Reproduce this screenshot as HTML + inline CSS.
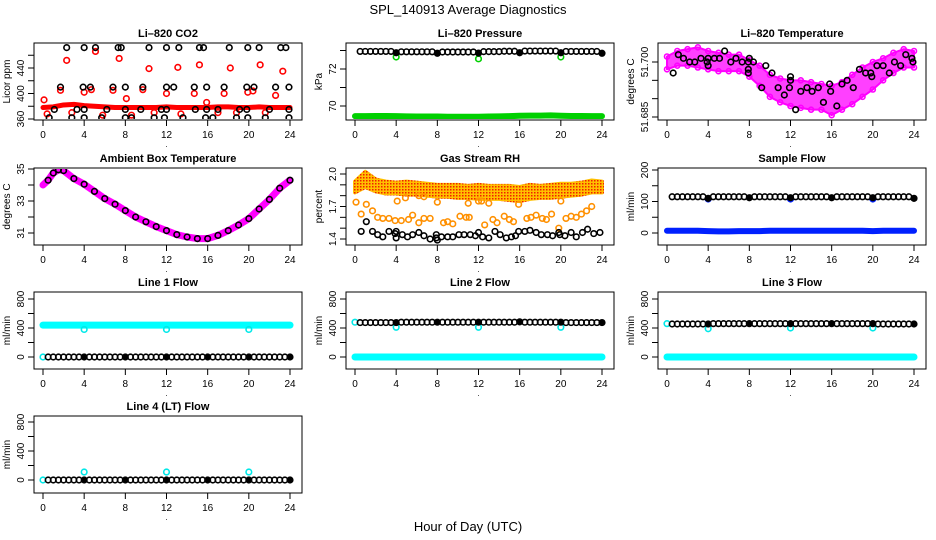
<!DOCTYPE html>
<html><head><meta charset="utf-8"><style>
body{margin:0;background:#fff}
svg{display:block;font-family:"Liberation Sans",Arial,sans-serif}
</style></head><body>
<svg id="chart" width="936" height="540" viewBox="0 0 936 540"></svg>
<script>
const HOURS=[0,1,2,3,4,5,6,7,8,9,10,11,12,13,14,15,16,17,18,19,20,21,22,23,24];
const HALF=[0.5,1,1.5,2,2.5,3,3.5,4,4.5,5,5.5,6,6.5,7,7.5,8,8.5,9,9.5,10,10.5,11,11.5,12,12.5,13,13.5,14,14.5,15,15.5,16,16.5,17,17.5,18,18.5,19,19.5,20,20.5,21,21.5,22,22.5,23,23.5,24];
const xTicks=[0,4,8,12,16,20,24];
// CO2
const co2Band=[378,379,382,383,381,380,379,378,378,378,378,378,379,378,378,378,378,379,379,378,378,379,378,378,378];
const co2RedX=[0.1,2.3,5.1,7.4,10.3,13.1,15.2,18.2,21.1,23.3,1.7,4,4.7,6.8,9.7,12,14.7,17.6,19.9,20.4,22.6,8.1,15.9,0.4,2.8,5.8,8.6,10.8,13.4,17.0,18.8,21.6];
const co2RedY=[390,452,466,455,439,441,445,440,445,435,405,402,406,405,406,400,400,400,402,404,397,392,386,368,370,366,366,370,368,370,370,370];
const co2BlkX=[2.3,4,5.1,7.3,7.6,10.3,12,13.2,15.2,15.6,18.1,19.9,21,23.1,23.6,1.7,3.9,4.6,6.8,8.0,9.7,12,12.7,14.7,15.9,17.6,19.8,20.5,22.6,23.9,1.1,3.3,4,6.2,8,9.5,11.5,12,14.8,15.9,17,19.1,19.8,22,23.9,0.6,2.8,4,5.7,8,8.6,10.8,11.8,13.6,15.8,16.5,18.8,19.9,21.6,23.9];
const co2BlkY=[472,472,472,472,472,472,472,472,472,472,472,472,472,472,472,410,410,410,410,410,410,410,410,410,410,410,410,410,410,410,375,375,375,375,375,375,375,375,375,375,375,375,375,375,375,362,362,362,362,362,362,362,362,362,362,362,362,362,362,362];
// Pressure
const presBlk=[72.95,72.95,72.95,72.95,72.95,72.95,72.95,72.88,72.93,72.93,72.93,72.93,72.93,72.93,72.93,72.85,72.92,72.92,72.92,72.92,72.92,72.92,72.92,72.86,72.94,72.94,72.94,72.94,72.96,72.96,72.96,72.88,72.97,72.97,72.97,72.97,72.97,72.97,72.97,72.88,72.95,72.95,72.95,72.95,72.95,72.95,72.95,72.85];
const presGreen=[69.45,69.45,69.46,69.46,69.45,69.44,69.43,69.43,69.43,69.42,69.42,69.42,69.42,69.43,69.44,69.45,69.47,69.48,69.48,69.49,69.47,69.46,69.46,69.45,69.45];
const presOutX=[4,12,20];
const presOutY=[72.65,72.55,72.65];
// Li-820 temperature
const tempHi=[51.7015,51.7030,51.7035,51.7040,51.7030,51.7025,51.7020,51.7020,51.7005,51.6990,51.6965,51.6955,51.6950,51.6950,51.6945,51.6940,51.6935,51.6945,51.6965,51.6985,51.7000,51.7010,51.7025,51.7035,51.7030];
const tempLo=[51.6980,51.6990,51.6990,51.6985,51.6980,51.6975,51.6975,51.6975,51.6960,51.6935,51.6905,51.6890,51.6880,51.6875,51.6870,51.6870,51.6855,51.6870,51.6885,51.6905,51.6925,51.6950,51.6970,51.6985,51.6985];
const tempBlkX=[0.6,1.1,1.6,2.2,2.7,3.3,3.9,4,4,4.6,5.1,5.6,6.2,6.7,7.3,7.9,7.9,7.9,8,8.4,9.2,9.6,10.2,10.8,11.4,11.9,12,12,12.5,13,13.6,14.1,14.7,15.2,15.8,15.9,16.5,17.0,17.5,18.1,18.7,19.3,19.8,19.9,20.4,21,21.6,22.1,22.7,23.2,23.8,23.9];
const tempBlkY=[51.697,51.702,51.701,51.700,51.700,51.701,51.700,51.701,51.699,51.701,51.701,51.703,51.700,51.701,51.700,51.700,51.698,51.697,51.701,51.700,51.693,51.699,51.697,51.693,51.691,51.693,51.696,51.695,51.687,51.692,51.693,51.692,51.693,51.689,51.694,51.692,51.688,51.694,51.695,51.693,51.698,51.697,51.697,51.696,51.699,51.699,51.697,51.700,51.699,51.702,51.701,51.700];
// Ambient box temperature
const ambX=[0,0.5,1,1.5,2,3,4,5,6,7,8,9,10,11,12,13,14,15,16,17,18,19,20,21,22,23,24];
const ambY=[34.0,34.3,34.75,34.95,34.9,34.4,34.05,33.6,33.15,32.8,32.4,32.0,31.7,31.4,31.15,30.9,30.75,30.65,30.65,30.85,31.15,31.5,31.9,32.5,33.1,33.8,34.3];
// Gas stream RH
const rhHi=[1.93,2.02,1.95,1.93,1.92,1.93,1.92,1.91,1.90,1.90,1.90,1.89,1.90,1.89,1.89,1.89,1.88,1.90,1.89,1.90,1.91,1.91,1.92,1.94,1.93];
const rhLo=[1.83,1.88,1.84,1.82,1.82,1.81,1.81,1.80,1.79,1.79,1.78,1.78,1.77,1.77,1.77,1.76,1.75,1.77,1.78,1.78,1.79,1.80,1.81,1.83,1.83];
const rhOrX=[0.1,0.6,1.1,1.7,2.2,2.7,3.3,3.9,4.1,4.5,4.9,5.2,5.6,6.2,6.7,6.2,6.7,7.3,8.0,8.6,9.0,9.5,10.2,10.8,11.1,11.0,12.0,12.3,12.6,13.0,13.4,13.8,14.5,15.0,15.4,15.9,16.7,17.1,17.6,18.2,18.6,19.1,19.8,20.0,20.5,21.0,21.5,22.0,22.5,23.0];
const rhOrY=[1.74,1.63,1.72,1.66,1.60,1.59,1.59,1.57,1.75,1.57,1.78,1.58,1.62,1.80,1.79,1.55,1.59,1.59,1.74,1.55,1.56,1.54,1.61,1.60,1.60,1.73,1.75,1.75,1.53,1.73,1.58,1.55,1.61,1.58,1.56,1.72,1.59,1.60,1.62,1.59,1.58,1.63,1.50,1.75,1.59,1.61,1.60,1.63,1.66,1.70];
const rhBlkX=[0.6,1.1,1.7,2.2,2.7,3.3,3.9,4,4,4.6,5.1,5.6,6.2,6.7,7.3,7.9,7.9,8.0,8.4,9.0,9.5,10.1,10.6,11.2,11.7,12,12.4,13.0,13.6,14.1,14.7,15.2,15.6,15.9,16.5,17.0,17.6,18.1,18.7,19.2,19.8,19.9,20.4,21.0,21.5,22.1,22.6,23.2,23.8];
const rhBlkY=[1.47,1.56,1.47,1.44,1.42,1.47,1.45,1.41,1.47,1.44,1.42,1.44,1.46,1.43,1.40,1.44,1.41,1.39,1.42,1.42,1.42,1.44,1.44,1.44,1.43,1.46,1.42,1.41,1.47,1.44,1.41,1.42,1.43,1.47,1.47,1.48,1.46,1.44,1.44,1.43,1.46,1.44,1.43,1.46,1.42,1.46,1.49,1.45,1.46];
// Sample flow
const sampBlk=[115,115,115,115,115,115,115,110,115,115,115,115,115,115,115,112,115,115,115,115,115,115,115,112,115,115,115,115,115,115,115,112,115,115,115,115,115,115,115,112,115,115,115,115,115,115,115,110];
const sampBlue=[7,7,7,7,6,5,5,6,6,6,7,7,7,7,7,7,7,7,7,7,6,7,7,7,7];
const sampOutX=[4,12,20];
const sampOutY=[108,108,108];
// Line flows
const l1Cyan=[440,440,440,440,440,440,440,440,440,440,440,440,440,440,440,440,440,440,440,440,440,440,440,440,440];
const l1OutX=[0,4,12,20];
const l1OutY=[0,380,380,380];
const l1Blk=[0,0,0,0,0,0,0,0,0,0,0,0,0,0,0,0,0,0,0,0,0,0,0,0,0,0,0,0,0,0,0,0,0,0,0,0,0,0,0,0,0,0,0,0,0,0,0,0];
const l2Cyan=[0,0,0,0,0,0,0,0,0,0,0,0,0,0,0,0,0,0,0,0,0,0,0,0,0];
const l2Blk=[475,475,475,475,475,475,475,475,480,480,480,480,480,480,480,480,480,480,480,480,480,480,480,480,480,480,480,480,480,480,480,485,480,480,480,480,480,480,480,480,475,475,475,475,475,475,475,475];
const l2OutX=[0,4,12,20];
const l2OutY=[480,410,410,410];
const l3Cyan=[0,0,0,0,0,0,0,0,0,0,0,0,0,0,0,0,0,0,0,0,0,0,0,0,0];
const l3Blk=[455,455,455,455,455,455,455,455,460,460,460,460,460,460,460,460,460,460,460,460,460,460,460,460,460,460,460,460,460,460,460,460,460,460,460,460,460,460,460,460,455,455,455,455,455,455,455,455];
const l3OutX=[0,4,12,20];
const l3OutY=[460,390,400,400];
const l4Blk=[0,0,0,0,0,0,0,0,0,0,0,0,0,0,0,0,0,0,0,0,0,0,0,0,0,0,0,0,0,0,0,0,0,0,0,0,0,0,0,0,0,0,0,0,0,0,0,0];
const l4OutX=[0,4,12,20];
const l4OutY=[0,110,110,110];

const NS='http://www.w3.org/2000/svg';
const svg=document.getElementById('chart');
function mk(parent,tag,attrs,txt){const e=document.createElementNS(NS,tag);for(const k in attrs)e.setAttribute(k,attrs[k]);if(txt!==undefined)e.textContent=txt;parent.appendChild(e);return e;}

const COLX=[34,346,658], ROWY=[43,168,292,416], W=268, H=77;
function panel(key,title,col,row,v1,p1,v2,p2,yt,yl,ylab){
  const ox=COLX[col], oy=ROWY[row];
  const g=mk(svg,'g',{});
  
  
  const x=v=>ox+9+v*247/24;
  const y=v=>oy+p1+(v-v1)*(p2-p1)/(v2-v1);
  const box=mk(g,'rect',{x:ox,y:oy,width:W,height:H,fill:'none',stroke:'#000','stroke-width':1});
  
  
  const t=mk(g,'text',{x:ox+W/2,y:oy-6,'text-anchor':'middle','font-size':11,'font-weight':'bold'},title);
  
  
  const xa=mk(g,'g',{});
  
  
  mk(xa,'line',{x1:x(0),x2:x(24),y1:oy+H,y2:oy+H,stroke:'#000'});
  xTicks.forEach(v=>{mk(xa,'line',{x1:x(v),x2:x(v),y1:oy+H,y2:oy+H+6,stroke:'#000'});
    mk(xa,'text',{x:x(v),y:oy+H+18,'text-anchor':'middle','font-size':10},String(v));});
  mk(xa,'text',{x:x(12),y:oy+H+27,'text-anchor':'middle','font-size':8},'.');
  const ya=mk(g,'g',{});
  
  
  mk(ya,'line',{x1:ox,x2:ox,y1:y(yt[0]),y2:y(yt[yt.length-1]),stroke:'#000'});
  yt.forEach(v=>mk(ya,'line',{x1:ox-6,x2:ox,y1:y(v),y2:y(v),stroke:'#000'}));
  yl.forEach(v=>{const s=typeof v==='string'?v:String(v);const yy=y(parseFloat(s));
    mk(ya,'text',{x:ox-10,y:yy,'text-anchor':'middle','font-size':10,transform:`rotate(-90 ${ox-10} ${yy})`},s);});
  const yc=oy+H/2;
  const yt2=mk(g,'text',{x:ox-24,y:yc,'text-anchor':'middle','font-size':10,transform:`rotate(-90 ${ox-24} ${yc})`},ylab);
  
  
  const clip='clip-'+key;
  const cp=mk(g,'clipPath',{id:clip});mk(cp,'rect',{x:ox+1,y:oy+1,width:W-2,height:H-2});
  const d=mk(g,'g',{'clip-path':`url(#${clip})`});
  
  
  return {x,y,g:d};
}
function pts(P,xs,ys,col,name,fillAt4,r){
  const g=mk(P.g,'g',{});
  
  
  xs.forEach((xv,i)=>{const f=fillAt4&&xv%4===0;
    mk(g,'circle',{cx:P.x(xv),cy:P.y(ys[i]),r:r||2.8,fill:f?col:'none',stroke:col,'stroke-width':1.6});});
}
function band(P,xs,ys,col,w,name){
  const l=mk(P.g,'polyline',{points:xs.map((v,i)=>P.x(v)+','+P.y(ys[i])).join(' '),fill:'none',stroke:col,'stroke-width':w,'stroke-linejoin':'round','stroke-linecap':'round'});
  
  
}
function area(P,xs,hi,lo,fill,stroke,name,sw,op){
  const p=xs.map((v,i)=>P.x(v)+','+P.y(hi[i])).concat(xs.slice().reverse().map((v,j)=>P.x(v)+','+P.y(lo[xs.length-1-j])));
  const a=mk(P.g,'polygon',{points:p.join(' '),fill:fill,'fill-opacity':op||1,stroke:stroke,'stroke-width':sw||4,'stroke-linejoin':'round'});
  
  
}
const defs=mk(svg,'defs',{});
const pat=mk(defs,'pattern',{id:'rhpat',width:3,height:3,patternUnits:'userSpaceOnUse'});
mk(pat,'rect',{width:3,height:3,fill:'#ffc000'});mk(pat,'rect',{width:1.5,height:1.5,fill:'#f02000'});

const mt=mk(svg,'text',{x:468,y:14,'text-anchor':'middle','font-size':13},'SPL_140913  Average Diagnostics');


const xl=mk(svg,'text',{x:468,y:531,'text-anchor':'middle','font-size':13},'Hour of Day (UTC)');



let P=panel('co2','Li\u2013820 CO2',0,0,360,76,440,25,[360,380,400,420,440,460],[360,400,440],'Licor ppm');
band(P,HOURS,co2Band,'#f00',5,'co2-red-band');
pts(P,co2RedX,co2RedY,'#f00','co2-red-points');
pts(P,co2BlkX,co2BlkY,'#000','co2-black-points');

P=panel('pressure','Li\u2013820 Pressure',1,0,70,63,72,26,[70,71,72,73],[70,72],'kPa');
band(P,HOURS,presGreen,'#00d000',6,'pressure-green-band');
pts(P,presOutX,presOutY,'#00d000','pressure-green-outliers');
pts(P,HALF,presBlk,'#000','pressure-black-points',true);

P=panel('li820-temp','Li\u2013820 Temperature',2,0,51.685,74,51.700,19,[51.685,51.690,51.695,51.700],['51.685','51.700'],'degrees C');
area(P,HOURS,tempHi,tempLo,'#ff00ff','#ff00ff','temp-magenta-band',2,0.75);
pts(P,HOURS,tempHi,'#ff00ff','temp-magenta-upper',false,2.5);
pts(P,HOURS,tempLo,'#ff00ff','temp-magenta-lower',false,2.5);
pts(P,tempBlkX,tempBlkY,'#000','temp-black-points');

P=panel('ambient','Ambient Box Temperature',0,1,35,1,31,65,[31,32,33,34,35],[31,33,35],'degrees C');
band(P,ambX,ambY,'#ff00ff',7,'ambient-magenta-line');
pts(P,ambX.slice(1),ambY.slice(1),'#000','ambient-black-points');

P=panel('rh','Gas Stream RH',1,1,2.0,6,1.4,71,[1.4,1.5,1.6,1.7,1.8,1.9,2.0],['1.4','1.7','2.0'],'percent');
area(P,HOURS,rhHi,rhLo,'url(#rhpat)','url(#rhpat)','rh-orange-band');
pts(P,rhOrX,rhOrY,'#ff9000','rh-orange-points');
pts(P,rhBlkX,rhBlkY,'#000','rh-black-points');

P=panel('sample-flow','Sample Flow',2,1,200,2,0,65,[0,50,100,150,200],[0,100,200],'ml/min');
band(P,HOURS,sampBlue,'#0020ff',6,'sample-blue-band');
pts(P,sampOutX,sampOutY,'#0020ff','sample-blue-outliers');
pts(P,HALF,sampBlk,'#000','sample-black-points',true);

const ft=[0,200,400,600,800],fl=[0,400,800];
P=panel('line1','Line 1 Flow',0,2,0,65,800,7,ft,fl,'ml/min');
band(P,HOURS,l1Cyan,'#00ffff',7,'line1-cyan-band');
pts(P,l1OutX,l1OutY,'#00e8e8','line1-cyan-outliers');
pts(P,HALF,l1Blk,'#000','line1-black-points',true);

P=panel('line2','Line 2 Flow',1,2,0,65,800,7,ft,fl,'ml/min');
band(P,HOURS,l2Cyan,'#00ffff',7,'line2-cyan-band');
pts(P,l2OutX,l2OutY,'#00e8e8','line2-cyan-outliers');
pts(P,HALF,l2Blk,'#000','line2-black-points',true);

P=panel('line3','Line 3 Flow',2,2,0,65,800,7,ft,fl,'ml/min');
band(P,HOURS,l3Cyan,'#00ffff',7,'line3-cyan-band');
pts(P,l3OutX,l3OutY,'#00e8e8','line3-cyan-outliers');
pts(P,HALF,l3Blk,'#000','line3-black-points',true);

P=panel('line4','Line 4 (LT) Flow',0,3,0,64,800,6,ft,fl,'ml/min');
pts(P,l4OutX,l4OutY,'#00e8e8','line4-cyan-outliers');
pts(P,HALF,l4Blk,'#000','line4-black-points',true);
</script>
</body></html>
